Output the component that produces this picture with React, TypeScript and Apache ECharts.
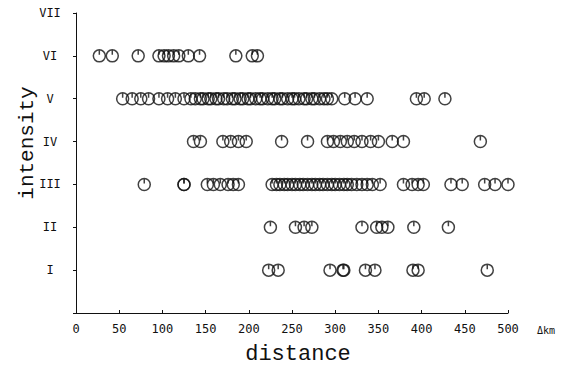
import React, { useEffect, useRef } from "react";
import * as echarts from "echarts";

// distance (km) of each observation, grouped by intensity
const distVI = [27, 42, 72, 96, 102, 107, 113, 119, 130, 143, 185, 204, 210];
const distV = [54, 65, 75, 84, 96, 106, 115, 125, 133, 138, 144, 147, 153, 156, 162, 165, 171, 175, 181, 184, 190, 193, 199, 202, 208, 213, 216, 222, 227, 230, 236, 239, 245, 250, 253, 258, 264, 267, 273, 276, 282, 287, 291, 296, 311, 323, 337, 394, 403, 427];
const distIV = [136, 144, 170, 179, 188, 197, 238, 268, 291, 298, 306, 314, 322, 331, 341, 350, 366, 379, 468];
const distIII = [79, 125, 125, 152, 159, 167, 176, 182, 188, 227, 232, 236, 241, 245, 250, 254, 259, 263, 268, 273, 277, 282, 286, 291, 296, 300, 305, 310, 314, 319, 325, 331, 337, 343, 352, 379, 389, 396, 402, 434, 447, 473, 485, 500];
const distII = [225, 254, 264, 273, 331, 348, 354, 361, 391, 431];
const distI = [223, 234, 294, 309, 310, 335, 346, 390, 396, 476];

const intensityLabels = ["", "I", "II", "III", "IV", "V", "VI", "VII"];
const xTicks = [0, 50, 100, 150, 200, 250, 300, 350, 400, 450, 500];

const groups: [number, number[]][] = [
  [1, distI],
  [2, distII],
  [3, distIII],
  [4, distIV],
  [5, distV],
  [6, distVI],
];

const symbolPath =
  "path://M0,-6 A6,6 0 1,1 0,6 A6,6 0 1,1 0,-6 Z M0,-6 L0,-1";

export default function App() {
  const ref = useRef<HTMLDivElement>(null);
  useEffect(() => {
    if (!ref.current) return;
    const chart = echarts.init(ref.current, undefined, { renderer: "svg" });
    const data: number[][] = [];
    groups.forEach(([lvl, arr]) => arr.forEach((d) => data.push([d, lvl])));
    chart.setOption({
      animation: false,
      backgroundColor: "#fff",
      grid: { left: 76, right: 67, top: 13, bottom: 53 },
      xAxis: {
        type: "value",
        min: 0,
        max: 500,
        interval: 50,
        axisLine: { show: true, lineStyle: { color: "#111", width: 1 } },
        axisTick: { show: true, inside: true, length: 3, lineStyle: { color: "#111" } },
        splitLine: { show: false },
        axisLabel: {
          fontFamily: "DejaVu Sans Mono",
          fontSize: 12,
          color: "#111",
          margin: 10,
          formatter: (v: number) => (xTicks.includes(v) ? String(v) : ""),
        },
      },
      yAxis: {
        type: "value",
        min: 0,
        max: 7,
        interval: 1,
        axisLine: { show: true, lineStyle: { color: "#111", width: 1 } },
        axisTick: { show: true, length: 3, lineStyle: { color: "#111" } },
        splitLine: { show: false },
        axisLabel: {
          fontFamily: "DejaVu Sans Mono",
          fontSize: 12,
          color: "#111",
          align: "center",
          margin: 26,
          formatter: (v: number) => intensityLabels[v] ?? "",
        },
      },
      graphic: [
        {
          type: "text",
          x: 27,
          y: 143,
          rotation: Math.PI / 2,
          style: {
            text: "intensity",
            align: "center",
            verticalAlign: "middle",
            fontFamily: "Liberation Mono",
            fontSize: 21,
            fill: "#111",
          },
        },
        {
          type: "text",
          x: 298,
          y: 354,
          style: {
            text: "distance",
            align: "center",
            verticalAlign: "middle",
            fontFamily: "Liberation Mono",
            fontSize: 22,
            fill: "#111",
          },
        },
        {
          type: "text",
          x: 537,
          y: 330,
          style: {
            text: "Δkm",
            align: "left",
            verticalAlign: "middle",
            fontFamily: "DejaVu Sans Mono",
            fontSize: 10,
            fill: "#111",
          },
        },
      ],
      series: [
        {
          type: "scatter",
          data,
          symbol: symbolPath,
          symbolSize: 12,
          itemStyle: {
            color: "rgba(0,0,0,0)",
            borderColor: "#111",
            borderWidth: 1.5,
          },
        },
      ],
    });
    return () => chart.dispose();
  }, []);
  return <div ref={ref} style={{ width: 575, height: 366, position: "fixed", left: 0, top: 0 }} />;
}
